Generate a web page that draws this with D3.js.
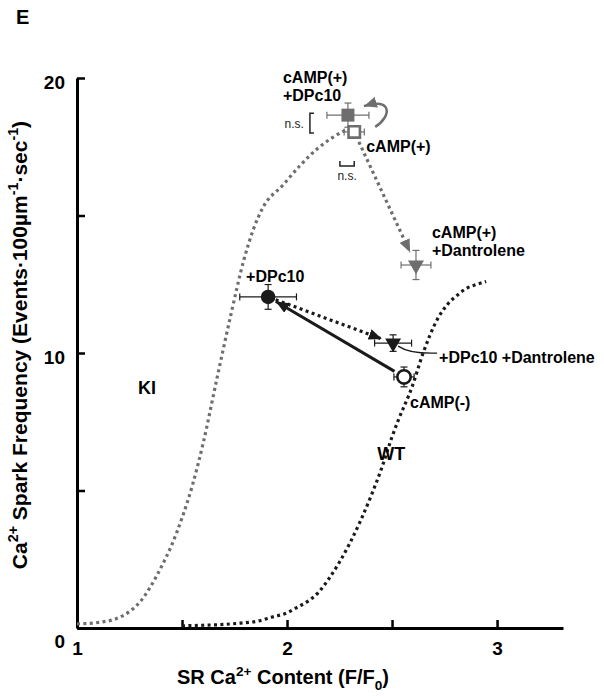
<!DOCTYPE html>
<html>
<head>
<meta charset="utf-8">
<script src="https://cdn.jsdelivr.net/npm/d3@7"></script>
<style>
  body { margin: 0; background: #fff; }
  text { font-family: "Liberation Sans", Arial, sans-serif; }
</style>
</head>
<body>
<script>
// data

// fitted curves (SR Ca content -> spark frequency)
var kiX = [1.00, 1.10, 1.20, 1.25, 1.30, 1.35, 1.40, 1.45, 1.50, 1.55, 1.60, 1.667, 1.73, 1.795, 1.84, 1.886, 1.98, 2.06, 2.14, 2.22, 2.29];
var kiY = [0.15, 0.2, 0.38, 0.6, 0.95, 1.5, 2.2, 3.0, 4.0, 5.2, 6.7, 9.1, 11.3, 13.4, 14.5, 15.3, 16.1, 16.8, 17.4, 17.85, 18.15];

var wtX = [1.50, 1.60, 1.70, 1.78, 1.86, 1.93, 2.00, 2.05, 2.095, 2.15, 2.20, 2.25, 2.30, 2.35, 2.40, 2.45, 2.50, 2.53, 2.595, 2.648, 2.714, 2.762, 2.81, 2.857, 2.905, 2.948];
var wtY = [0.08, 0.1, 0.13, 0.18, 0.25, 0.4, 0.55, 0.76, 0.95, 1.3, 1.8, 2.4, 3.1, 3.9, 4.8, 5.8, 6.95, 7.56, 8.76, 10.0, 11.2, 11.75, 12.1, 12.36, 12.5, 12.6];

// measured conditions (mean +/- sem)
var pointNames = ["cAMP(-)", "+DPc10", "+DPc10 +Dantrolene", "cAMP(+)", "cAMP(+) +DPc10", "cAMP(+) +Dantrolene"];
var pointX = [2.557, 1.91, 2.505, 2.32, 2.29, 2.614];
var pointY = [9.13, 12.04, 10.36, 18.04, 18.65, 13.2];
var pointXErr = [0.048, 0.135, 0.088, 0.048, 0.10, 0.071];
var pointYErr = [0.36, 0.45, 0.3, 0.2, 0.44, 0.53];

// axis ticks
var xTicks = [1, 1.5, 2, 2.5, 3];
var xTickLabels = ["1", "", "2", "", "3"];
var yTicks = [0, 5, 10, 15, 20];
var yTickLabels = ["0", "", "10", "", "20"];

var svgWidth = 604;
var svgHeight = 696;
var grey = "#6e6e6e";
var dark = "#1a1a1a";

var svg = d3.select("body").append("svg")
    .attr("width", svgWidth)
    .attr("height", svgHeight);

var x = d3.scaleLinear().domain([1, 3.314]).range([77, 563]);
var y = d3.scaleLinear().domain([0, 20]).range([628, 78]);

// arrow heads
var defs = svg.append("defs");
function arrowHead(id, color, w, h) {
    defs.append("marker")
        .attr("id", id)
        .attr("viewBox", "0 0 " + w + " " + h)
        .attr("refX", w)
        .attr("refY", h / 2)
        .attr("markerWidth", w)
        .attr("markerHeight", h)
        .attr("markerUnits", "userSpaceOnUse")
        .attr("orient", "auto")
        .append("path")
        .attr("d", "M0,0 L" + w + "," + (h / 2) + " L0," + h + " Z")
        .attr("fill", color);
}
arrowHead("headDark", dark, 13, 11);
arrowHead("headGrey", grey, 13, 11);

// helper for text with super/subscripts
function richText(sel, parts, size) {
    var shift = 0;
    parts.forEach(function(p) {
        var target = p.sup ? -0.42 * size : (p.sub ? 0.3 * size : 0);
        sel.append("tspan")
            .attr("dy", target - shift)
            .style("font-size", (p.sup || p.sub) ? (size * 0.68) + "px" : size + "px")
            .text(p.t);
        shift = target;
    });
}

// axes
var xAxis = d3.axisBottom(x).tickValues(xTicks).tickSizeInner(-8).tickSizeOuter(0)
    .tickFormat(function(d, i) { return xTickLabels[i]; });
var yAxis = d3.axisLeft(y).tickValues(yTicks).tickSizeInner(-8).tickSizeOuter(0)
    .tickFormat(function(d, i) { return yTickLabels[i]; });

var gx = svg.append("g").attr("transform", "translate(0," + y(0) + ")").call(xAxis);
var gy = svg.append("g").attr("transform", "translate(" + x(1) + ",0)").call(yAxis);

[gx, gy].forEach(function(g) {
    g.select(".domain").attr("stroke", "#000").attr("stroke-width", 3);
    g.selectAll(".tick line").attr("stroke", "#000").attr("stroke-width", 2.5);
    g.selectAll(".tick text")
        .attr("fill", "#000")
        .style("font-size", "19px")
        .style("font-weight", "bold")
        .style("font-family", "Liberation Sans, Arial, sans-serif");
});
gx.selectAll(".tick text").attr("y", 14).attr("dy", "0.71em");
gy.selectAll(".tick text").attr("x", -12).attr("dy", function(d) { return d === 0 ? "1.0em" : "0.55em"; });

// axis titles
var xTitle = svg.append("text")
    .attr("x", 283)
    .attr("y", 684)
    .attr("text-anchor", "middle")
    .style("font-weight", "bold");
richText(xTitle, [{t: "SR Ca"}, {t: "2+", sup: true}, {t: " Content (F/F"}, {t: "0", sub: true}, {t: ")"}], 20);

var yTitle = svg.append("text")
    .attr("transform", "translate(27,345) rotate(-90)")
    .attr("text-anchor", "middle")
    .style("font-weight", "bold");
richText(yTitle, [{t: "Ca"}, {t: "2+", sup: true}, {t: " Spark Frequency (Events\u00b7100\u00b5m"}, {t: "-1", sup: true},
    {t: "\u00b7sec"}, {t: "-1", sup: true}, {t: ")"}], 21);

svg.append("text").attr("x", 16).attr("y", 24)
    .style("font-size", "20px").style("font-weight", "bold").text("E");

// dotted fitted curves
var line = d3.line().x(function(d) { return x(d[0]); }).y(function(d) { return y(d[1]); })
    .curve(d3.curveMonotoneX);

svg.append("path")
    .attr("d", line(d3.zip(kiX, kiY)))
    .attr("fill", "none").attr("stroke", grey).attr("stroke-width", 3.2)
    .attr("stroke-dasharray", "3,3.4");

svg.append("path")
    .attr("d", line(d3.zip(wtX, wtY)))
    .attr("fill", "none").attr("stroke", dark).attr("stroke-width", 3.2)
    .attr("stroke-dasharray", "3,3.4");

svg.append("text").attr("x", x(1.29)).attr("y", y(8.5))
    .style("font-size", "18px").style("font-weight", "bold").text("KI");
svg.append("text").attr("x", x(2.43)).attr("y", y(6.1))
    .style("font-size", "18px").style("font-weight", "bold").text("WT");

// arrows between conditions
function px(i) { return [x(pointX[i]), y(pointY[i])]; }

function straightArrow(from, to, startGap, endGap, color, head, dashed, width) {
    var a = px(from), b = px(to);
    var dx = b[0] - a[0], dy = b[1] - a[1];
    var len = Math.sqrt(dx * dx + dy * dy);
    var ux = dx / len, uy = dy / len;
    svg.append("line")
        .attr("x1", a[0] + ux * startGap).attr("y1", a[1] + uy * startGap)
        .attr("x2", b[0] - ux * endGap).attr("y2", b[1] - uy * endGap)
        .attr("stroke", color).attr("stroke-width", width)
        .attr("stroke-dasharray", dashed ? "3,3.4" : null)
        .attr("marker-end", "url(#" + head + ")");
}

straightArrow(1, 2, 8, 12, dark, "headDark", true, 3.2);
straightArrow(0, 1, 11, 9, dark, "headDark", false, 3);
straightArrow(3, 5, 11, 14, grey, "headGrey", true, 3.2);

// curved arrow from cAMP(+) up to cAMP(+) +DPc10
var s3 = px(3), s4 = px(4);
svg.append("path")
    .attr("d", "M" + (s3[0] + 21) + "," + (s3[1] - 5) +
        " C" + (s3[0] + 38) + "," + (s3[1] - 16) + " " + (s4[0] + 44) + "," + (s4[1] - 18) + " " + (s4[0] + 16) + "," + (s4[1] - 9))
    .attr("fill", "none").attr("stroke", grey).attr("stroke-width", 2.5)
    .attr("marker-end", "url(#headGrey)");

// thin leader to the +DPc10 +Dantrolene label
var t2 = px(2);
svg.append("path")
    .attr("d", "M" + (t2[0] + 5) + "," + (t2[1] + 3) + " Q" + (t2[0] + 17) + "," + (t2[1] + 11) + " " + (t2[0] + 44) + "," + (t2[1] + 10))
    .attr("fill", "none").attr("stroke", dark).attr("stroke-width", 1.3);

// n.s. brackets
var bx = x(pointX[4]) - 38;
svg.append("path")
    .attr("d", "M" + (bx + 4) + "," + (y(pointY[4]) - 2) + " H" + bx + " V" + (y(pointY[3]) + 1) + " H" + (bx + 4))
    .attr("fill", "none").attr("stroke", "#222").attr("stroke-width", 1.5);
svg.append("text").attr("x", bx - 6).attr("y", (y(pointY[4]) + y(pointY[3])) / 2 + 4)
    .attr("text-anchor", "end").style("font-size", "12px").attr("fill", "#222").text("n.s.");

var by = y(pointY[3]) + 34;
svg.append("path")
    .attr("d", "M" + (x(pointX[4]) - 8) + "," + (by - 5) + " V" + by + " H" + x(pointX[3]) + " V" + (by - 5))
    .attr("fill", "none").attr("stroke", "#222").attr("stroke-width", 1.5);
svg.append("text").attr("x", (x(pointX[4]) - 8 + x(pointX[3])) / 2).attr("y", by + 14)
    .attr("text-anchor", "middle").style("font-size", "12px").attr("fill", "#222").text("n.s.");

// error bars
var markColor = [dark, dark, dark, grey, grey, grey];
var cap = 3.5;
pointX.forEach(function(v, i) {
    var c = px(i);
    var g = svg.append("g").attr("stroke", markColor[i]).attr("stroke-width", 1.2);
    var x0 = x(v - pointXErr[i]), x1 = x(v + pointXErr[i]);
    var y0 = y(pointY[i] - pointYErr[i]), y1 = y(pointY[i] + pointYErr[i]);
    g.append("line").attr("x1", x0).attr("x2", x1).attr("y1", c[1]).attr("y2", c[1]);
    g.append("line").attr("x1", x0).attr("x2", x0).attr("y1", c[1] - cap).attr("y2", c[1] + cap);
    g.append("line").attr("x1", x1).attr("x2", x1).attr("y1", c[1] - cap).attr("y2", c[1] + cap);
    g.append("line").attr("x1", c[0]).attr("x2", c[0]).attr("y1", y0).attr("y2", y1);
    g.append("line").attr("x1", c[0] - cap).attr("x2", c[0] + cap).attr("y1", y0).attr("y2", y0);
    g.append("line").attr("x1", c[0] - cap).attr("x2", c[0] + cap).attr("y1", y1).attr("y2", y1);
});

// markers
var markShape = [d3.symbolCircle, d3.symbolCircle, d3.symbolTriangle, d3.symbolSquare, d3.symbolSquare, d3.symbolTriangle];
var markSize = [140, 165, 110, 130, 169, 110];
var markFill = ["#fff", dark, dark, "#fff", grey, grey];
var markStroke = [dark, "none", "none", grey, "none", "none"];
var markRotate = [0, 0, 180, 0, 0, 180];

svg.selectAll(".mark")
    .data(pointX)
    .enter()
    .append("path")
    .attr("class", "mark")
    .attr("d", function(d, i) { return d3.symbol().type(markShape[i]).size(markSize[i])(); })
    .attr("transform", function(d, i) {
        return "translate(" + x(d) + "," + y(pointY[i]) + ") rotate(" + markRotate[i] + ")";
    })
    .attr("fill", function(d, i) { return markFill[i]; })
    .attr("stroke", function(d, i) { return markStroke[i]; })
    .attr("stroke-width", 2.6);

// condition labels
var labelDx = [6, -22, 46, 12, -65, 16];
var labelDy = [31, -15, 20, 20, -32, -27];
var labelLines = [["cAMP(-)"], ["+DPc10"], ["+DPc10 +Dantrolene"], ["cAMP(+)"], ["cAMP(+)", "+DPc10"], ["cAMP(+)", "+Dantrolene"]];

pointNames.forEach(function(name, i) {
    var c = px(i);
    var t = svg.append("text")
        .attr("x", c[0] + labelDx[i])
        .attr("y", c[1] + labelDy[i])
        .style("font-size", "16px")
        .style("font-weight", "bold");
    labelLines[i].forEach(function(s, k) {
        t.append("tspan").attr("x", c[0] + labelDx[i]).attr("dy", k === 0 ? 0 : 18).text(s);
    });
});
</script>
</body>
</html>
